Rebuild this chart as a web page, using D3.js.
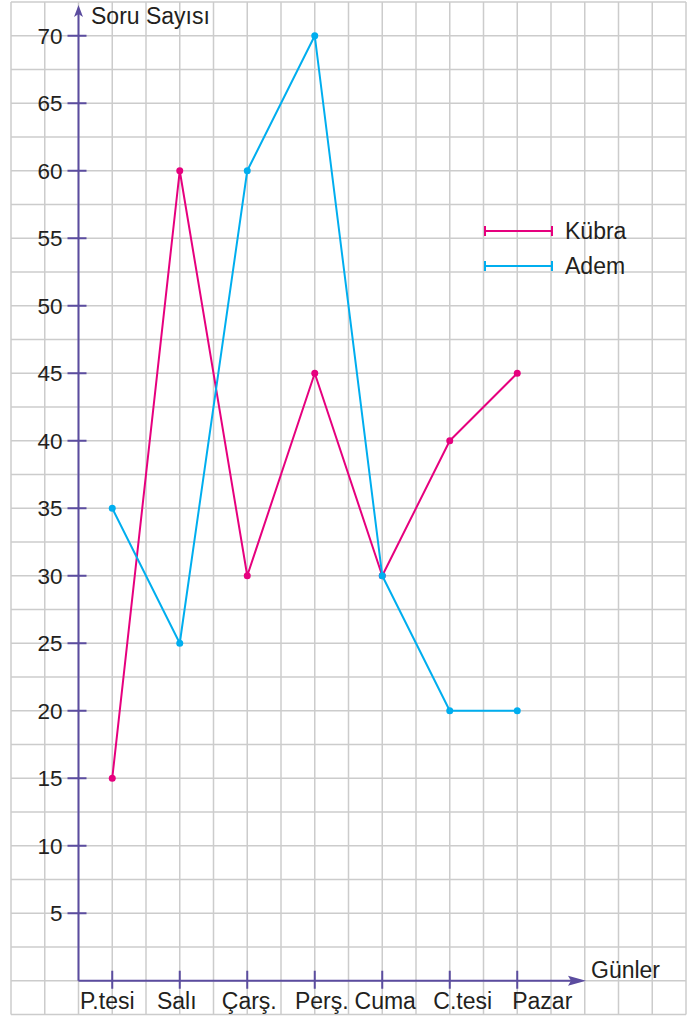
<!DOCTYPE html>
<html>
<head>
<meta charset="utf-8">
<script src="https://cdn.jsdelivr.net/npm/d3@7"></script>
<style>
  body { margin: 0; background: #fff; }
  svg { display: block; font-family: "Liberation Sans", Arial, sans-serif; }
</style>
</head>
<body>
<div id="chart"></div>
<script>
// Data
const days = ["P.tesi", "Salı", "Çarş.", "Perş.", "Cuma", "C.tesi", "Pazar"];
const kubra = [15, 60, 30, 45, 30, 40, 45];
const adem = [35, 25, 60, 70, 30, 20, 20];
const yTicks = [5, 10, 15, 20, 25, 30, 35, 40, 45, 50, 55, 60, 65, 70];
const seriesNames = ["Kübra", "Adem"];

const drawChart = () => {

  // Dimensions
  const width = 690;
  const height = 1016;
  const cell = 33.75;
  const gridLeft = 11;
  const gridTop = 2;
  const originX = gridLeft + 2 * cell;
  const originY = gridTop + 29 * cell;

  const axisColor = "#5b4c9f";
  const colors = ["#e6007e", "#00aeef"];
  const textColor = "#231f20";

  const svg = d3.select("#chart")
    .append("svg")
      .attr("width", width)
      .attr("height", height);

  // Scales
  const y = d3.scaleLinear()
    .domain([0, 70])
    .range([originY, originY - 28 * cell]);
  const x = d3.scalePoint()
    .domain(days)
    .range([originX + cell, originX + 13 * cell]);

  // Grid
  const grid = svg.append("g")
    .attr("stroke", "#cccccc")
    .attr("stroke-width", 1.5);
  grid.selectAll(".v-line")
    .data(d3.range(21))
    .join("line")
      .attr("x1", d => gridLeft + d * cell)
      .attr("x2", d => gridLeft + d * cell)
      .attr("y1", gridTop)
      .attr("y2", gridTop + 30 * cell);
  grid.selectAll(".h-line")
    .data(d3.range(31))
    .join("line")
      .attr("x1", gridLeft)
      .attr("x2", gridLeft + 20 * cell)
      .attr("y1", d => gridTop + d * cell)
      .attr("y2", d => gridTop + d * cell);

  // Axes
  const axes = svg.append("g")
    .attr("stroke", axisColor)
    .attr("stroke-width", 2);
  axes.append("line")
    .attr("x1", originX).attr("y1", originY)
    .attr("x2", originX).attr("y2", 12);
  axes.append("line")
    .attr("x1", originX).attr("y1", originY)
    .attr("x2", 578).attr("y2", originY);
  svg.append("path")
    .attr("fill", axisColor)
    .attr("d", `M${originX},5 L${originX - 4.5},17 L${originX},14 L${originX + 4.5},17 Z`);
  svg.append("path")
    .attr("fill", axisColor)
    .attr("d", `M586,${originY} L568,${originY - 5} L571,${originY} L568,${originY + 5} Z`);

  // Y ticks
  axes.selectAll(".y-tick")
    .data(yTicks)
    .join("line")
      .attr("x1", originX - 11)
      .attr("x2", originX + 8)
      .attr("y1", d => y(d))
      .attr("y2", d => y(d));
  svg.append("g")
    .attr("fill", textColor)
    .attr("font-size", 22.5)
    .attr("text-anchor", "end")
    .selectAll("text")
    .data(yTicks)
    .join("text")
      .attr("x", originX - 16)
      .attr("y", d => y(d) + 8)
      .text(d => d);

  // X ticks
  axes.selectAll(".x-tick")
    .data(days)
    .join("line")
      .attr("x1", d => x(d))
      .attr("x2", d => x(d))
      .attr("y1", originY - 10)
      .attr("y2", originY + 8);
  const labelShift = [-5, -3, 2, 7, 3, 13, 25];
  svg.append("g")
    .attr("fill", textColor)
    .attr("font-size", 23)
    .attr("text-anchor", "middle")
    .selectAll("text")
    .data(days)
    .join("text")
      .attr("x", (d, i) => x(d) + labelShift[i])
      .attr("y", 1009)
      .text(d => d);

  // Axis titles
  svg.append("text")
    .attr("x", 91).attr("y", 24)
    .attr("fill", textColor)
    .attr("font-size", 23)
    .text("Soru Sayısı");
  svg.append("text")
    .attr("x", 591).attr("y", 978)
    .attr("fill", textColor)
    .attr("font-size", 23)
    .text("Günler");

  // Lines
  const line = d3.line()
    .x((d, i) => x(days[i]))
    .y(d => y(d));
  [kubra, adem].forEach((values, s) => {
    svg.append("path")
      .datum(values)
      .attr("fill", "none")
      .attr("stroke", colors[s])
      .attr("stroke-width", 2)
      .attr("stroke-linejoin", "round")
      .attr("d", line);
    svg.append("g")
      .attr("fill", colors[s])
      .selectAll("circle")
      .data(values)
      .join("circle")
        .attr("cx", (d, i) => x(days[i]))
        .attr("cy", d => y(d))
        .attr("r", 3.5);
  });

  // Legend
  const legend = svg.append("g")
    .selectAll("g")
    .data(seriesNames)
    .join("g")
      .attr("transform", (d, i) => `translate(485, ${231 + i * 35})`);
  legend.append("line")
    .attr("x1", 0).attr("x2", 67)
    .attr("stroke", (d, i) => colors[i])
    .attr("stroke-width", 2);
  legend.append("line")
    .attr("x1", 0).attr("x2", 0).attr("y1", -5).attr("y2", 5)
    .attr("stroke", (d, i) => colors[i])
    .attr("stroke-width", 2);
  legend.append("line")
    .attr("x1", 67).attr("x2", 67).attr("y1", -5).attr("y2", 5)
    .attr("stroke", (d, i) => colors[i])
    .attr("stroke-width", 2);
  legend.append("text")
    .attr("x", 80)
    .attr("y", 8)
    .attr("fill", textColor)
    .attr("font-size", 23)
    .text(d => d);
};

drawChart();
</script>
</body>
</html>
